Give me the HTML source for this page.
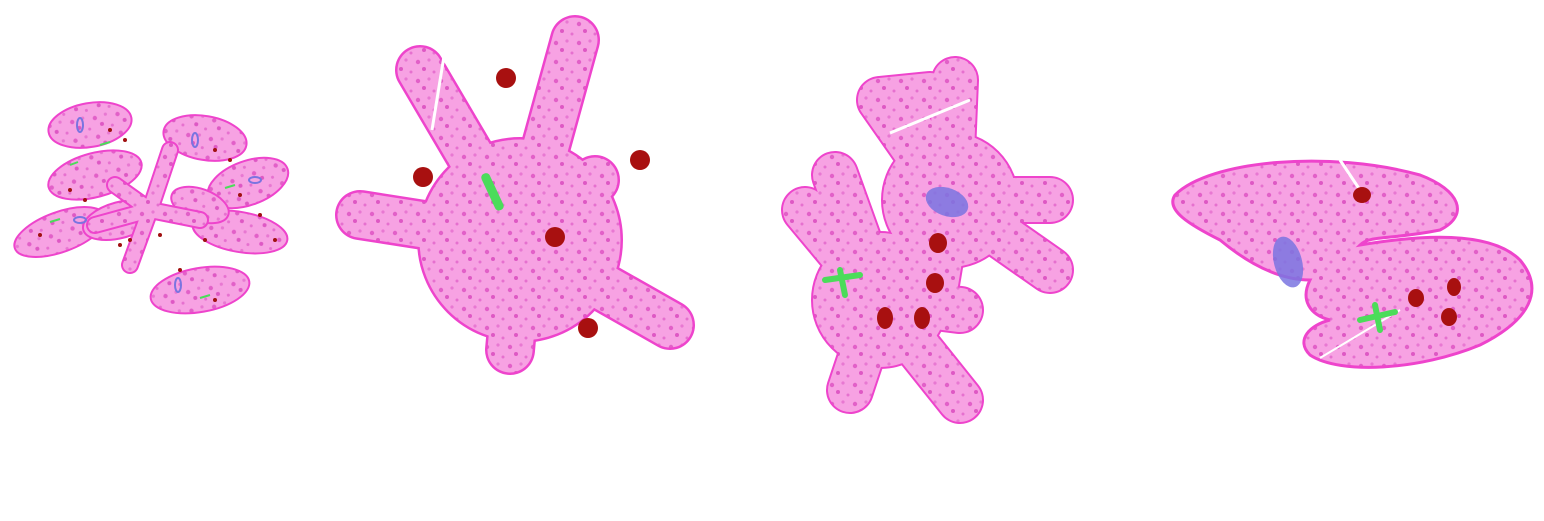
<!DOCTYPE html>
<html><head><meta charset="utf-8"><style>
html,body{margin:0;padding:0;background:#fff;width:1544px;height:521px;overflow:hidden}
</style></head><body>
<svg width="1544" height="521" viewBox="0 0 1544 521">
<defs>
<pattern id="dots" width="23" height="19" patternUnits="userSpaceOnUse">
<rect width="23" height="19" fill="#f7a2e3"/>
<circle cx="4" cy="5" r="2.2" fill="#e260c8"/><circle cx="15" cy="3" r="1.6" fill="#e878d2"/>
<circle cx="10" cy="12" r="2" fill="#de58c4"/><circle cx="20" cy="15" r="1.5" fill="#e670cf"/>
</pattern>
<g id="star">
<circle cx="520" cy="240" r="78"/>
<path d="M520,240 L420,70 M520,240 L575,40 M520,240 L360,215 M520,240 L670,325 M520,240 L510,350 M520,240 L595,180"/>
</g>
<g id="third">
<circle cx="880" cy="300" r="45"/><circle cx="950" cy="200" r="45"/>
<path d="M880,300 L805,210 M880,300 L835,175 M880,300 L850,390 M880,300 L960,400 M880,300 L960,310 M950,200 L880,100 M950,200 L955,80 M950,200 L1050,200 M950,200 L1050,270 M950,200 L935,290 M950,200 L900,110 M880,100 L930,95"/>
</g>
<g id="mini">
<path d="M150,210 L115,185 M150,210 L170,150 M150,210 L130,265 M150,210 L200,220 M150,210 L95,225"/>
</g>
</defs>

<!-- cluster -->
<g stroke="#ee44cc" stroke-width="2" fill="url(#dots)">
<ellipse cx="90" cy="125" rx="42" ry="22" transform="rotate(-10 90 125)"/>
<ellipse cx="205" cy="138" rx="42" ry="22" transform="rotate(10 205 138)"/>
<ellipse cx="95" cy="175" rx="48" ry="22" transform="rotate(-15 95 175)"/>
<ellipse cx="248" cy="183" rx="42" ry="22" transform="rotate(-20 248 183)"/>
<ellipse cx="60" cy="232" rx="48" ry="20" transform="rotate(-20 60 232)"/>
<ellipse cx="120" cy="220" rx="38" ry="18" transform="rotate(-15 120 220)"/>
<ellipse cx="240" cy="232" rx="48" ry="20" transform="rotate(10 240 232)"/>
<ellipse cx="200" cy="290" rx="50" ry="22" transform="rotate(-10 200 290)"/>
<ellipse cx="200" cy="205" rx="30" ry="16" transform="rotate(20 200 205)"/>
</g>
<g>
<use href="#mini" stroke="#ee44cc" stroke-width="18" stroke-linecap="round"/>
<use href="#mini" stroke="url(#dots)" stroke-width="14" stroke-linecap="round"/>
</g>
<g fill="#a01010">
<circle cx="110" cy="130" r="2"/><circle cx="125" cy="140" r="2"/><circle cx="215" cy="150" r="2"/><circle cx="230" cy="160" r="2"/>
<circle cx="70" cy="190" r="2"/><circle cx="85" cy="200" r="2"/><circle cx="160" cy="235" r="2"/><circle cx="205" cy="240" r="2"/>
<circle cx="40" cy="235" r="2"/><circle cx="260" cy="215" r="2"/><circle cx="215" cy="300" r="2"/><circle cx="130" cy="240" r="2"/>
<circle cx="240" cy="195" r="2"/><circle cx="275" cy="240" r="2"/><circle cx="120" cy="245" r="2"/><circle cx="180" cy="270" r="2"/>
</g>
<g fill="none" stroke="#7a74e0" stroke-width="2">
<ellipse cx="80" cy="125" rx="3" ry="7"/><ellipse cx="195" cy="140" rx="3" ry="7"/><ellipse cx="80" cy="220" rx="6" ry="3"/><ellipse cx="178" cy="285" rx="3" ry="7"/><ellipse cx="255" cy="180" rx="6" ry="3"/>
</g>
<g fill="none" stroke="#4bdc5a" stroke-width="2">
<path d="M100,145 l10,-3 M50,222 l10,-3 M200,298 l10,-3 M225,188 l10,-3 M70,165 l8,-3"/>
</g>

<!-- star cell -->
<g>
<use href="#star" stroke="#ee44cc" fill="#ee44cc" stroke-width="50" stroke-linecap="round"/>
<use href="#star" stroke="url(#dots)" fill="url(#dots)" stroke-width="45" stroke-linecap="round"/>
</g>
<line x1="445" y1="50" x2="432" y2="130" stroke="#fff" stroke-width="3"/>
<rect x="488" y="172" width="9" height="40" rx="4" fill="#4bdc5a" transform="rotate(-25 492 192)"/>
<circle cx="555" cy="237" r="10" fill="#a81010"/>
<circle cx="506" cy="78" r="10" fill="#a81010"/><circle cx="640" cy="160" r="10" fill="#a81010"/>
<circle cx="423" cy="177" r="10" fill="#a81010"/><circle cx="588" cy="328" r="10" fill="#a81010"/>

<!-- third -->
<g>
<use href="#third" stroke="#ee44cc" fill="#ee44cc" stroke-width="48" stroke-linecap="round"/>
<use href="#third" stroke="url(#dots)" fill="url(#dots)" stroke-width="44" stroke-linecap="round"/>
</g>
<line x1="890" y1="133" x2="970" y2="100" stroke="#fff" stroke-width="3"/>
<ellipse cx="947" cy="202" rx="22" ry="14" fill="#7a74e0" opacity="0.85" transform="rotate(20 947 202)"/>
<path d="M825,280 L860,275 M840,270 L845,295" stroke="#4bdc5a" stroke-width="6" fill="none" stroke-linecap="round"/>
<ellipse cx="938" cy="243" rx="9" ry="10" fill="#a81010"/><ellipse cx="935" cy="283" rx="9" ry="10" fill="#a81010"/>
<ellipse cx="885" cy="318" rx="8" ry="11" fill="#a81010"/><ellipse cx="922" cy="318" rx="8" ry="11" fill="#a81010"/>

<!-- fourth -->
<path d="M1175,195 C1210,160 1330,150 1420,175 C1460,190 1470,215 1440,230 C1390,240 1370,235 1360,245 C1420,235 1490,230 1520,260 C1545,290 1530,320 1480,345 C1420,370 1340,375 1310,355 C1295,340 1310,325 1330,320 C1310,315 1300,300 1310,280 C1280,280 1250,265 1220,240 C1190,225 1165,210 1175,195 Z" fill="url(#dots)" stroke="#ee44cc" stroke-width="3"/>
<line x1="1340" y1="160" x2="1360" y2="190" stroke="#fff" stroke-width="3"/>
<line x1="1320" y1="358" x2="1400" y2="310" stroke="#fff" stroke-width="2"/>
<ellipse cx="1288" cy="262" rx="14" ry="26" fill="#7a74e0" opacity="0.85" transform="rotate(-15 1288 262)"/>
<path d="M1360,320 L1395,312 M1375,305 L1380,330" stroke="#4bdc5a" stroke-width="6" fill="none" stroke-linecap="round"/>
<ellipse cx="1362" cy="195" rx="9" ry="8" fill="#a81010"/><ellipse cx="1416" cy="298" rx="8" ry="9" fill="#a81010"/>
<ellipse cx="1454" cy="287" rx="7" ry="9" fill="#a81010"/><ellipse cx="1449" cy="317" rx="8" ry="9" fill="#a81010"/>
</svg>
</body></html>
